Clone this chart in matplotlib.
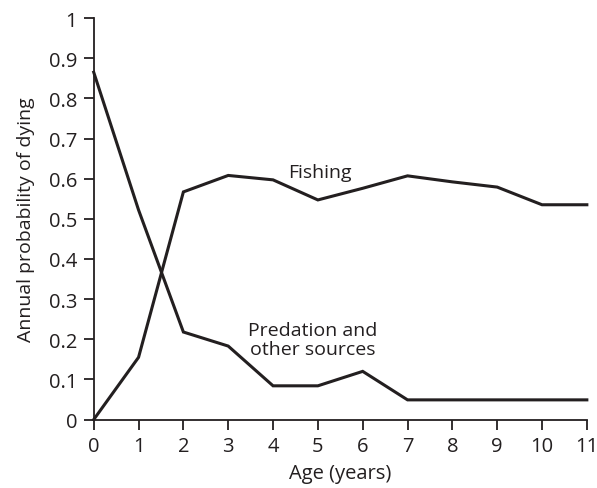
import matplotlib
matplotlib.use("Agg")
import matplotlib.pyplot as plt

plt.rcParams['font.family'] = ['Open Sans', 'DejaVu Sans']

# ages and annual probability of dying
age = [0, 1, 2, 3, 4, 5, 6, 7, 8, 9, 10, 11]
fishing = [0.0, 0.155, 0.567, 0.608, 0.597, 0.547, 0.576, 0.607, 0.592, 0.579, 0.535, 0.535]
predation = [0.865, 0.522, 0.218, 0.183, 0.084, 0.084, 0.120, 0.049, 0.049, 0.049, 0.049, 0.049]

yticks = [0, 0.1, 0.2, 0.3, 0.4, 0.5, 0.6, 0.7, 0.8, 0.9, 1]
ylabels = ['0', '0.1', '0.2', '0.3', '0.4', '0.5', '0.6', '0.7', '0.8', '0.9', '1']

ink = '#231f20'

fig = plt.figure(figsize=(5.97, 4.89), dpi=100)
ax = fig.add_axes([0.157, 0.14, 0.826, 0.821])

ax.plot(age, fishing, color=ink, lw=2.2, solid_joinstyle='miter', clip_on=False)
ax.plot(age, predation, color=ink, lw=2.2, solid_joinstyle='miter', clip_on=False)

ax.text(5.04, 0.616, 'Fishing', ha='center', va='center', fontsize=14, color=ink)
ax.text(4.88, 0.2, 'Predation and\nother sources', ha='center', va='center',
        fontsize=14, color=ink, linespacing=1.05)

ax.set_xlim(0, 11)
ax.set_ylim(0, 1)
ax.set_xticks(age)
ax.set_yticks(yticks)
ax.set_yticklabels(ylabels)
ax.tick_params(direction='out', length=7, width=1.3, labelsize=14.5, colors=ink, pad=5)
for s in ['top', 'right']:
    ax.spines[s].set_visible(False)
for s in ['left', 'bottom']:
    ax.spines[s].set_linewidth(1.3)
    ax.spines[s].set_color(ink)

ax.set_xlabel('Age (years)', fontsize=14.5, color=ink, labelpad=5)
ax.set_ylabel('Annual probability of dying', fontsize=14, color=ink, labelpad=10)

fig.savefig('out.png', dpi=100)
